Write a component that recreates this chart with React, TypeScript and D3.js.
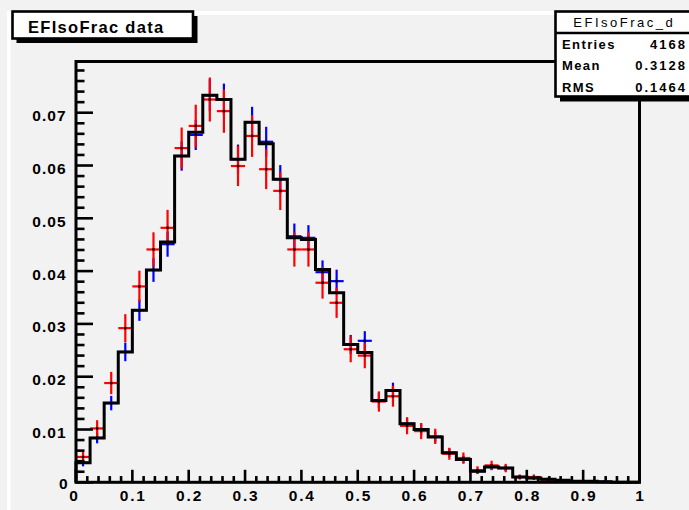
import React from "react";
import * as d3 from "d3";

// 40 bins of width 0.025 on [0, 1]
const binEdges: number[] = d3.range(0, 41).map((i) => i * 0.025);

// Reference histogram (black line)
const histValues: number[] = [
  0.0037, 0.0084, 0.015, 0.0247, 0.0326, 0.0402, 0.0455, 0.0618, 0.0663, 0.0733,
  0.0725, 0.0612, 0.0682, 0.0641, 0.0574, 0.0463, 0.046, 0.0403, 0.0359, 0.0261,
  0.0246, 0.0155, 0.0174, 0.0111, 0.01, 0.0086, 0.0056, 0.0043, 0.0021, 0.0029,
  0.0027, 0.001, 0.0008, 0.0006, 0.0004, 0.0002, 0.0002, 0.0001, 0, 0,
];

// Blue data points and their errors
const blueValues: number[] = [
  0.0037, 0.0084, 0.015, 0.0247, 0.0326, 0.0402, 0.0451, 0.0618, 0.0658, 0.0733,
  0.0725, 0.0612, 0.0682, 0.0645, 0.0574, 0.0466, 0.0463, 0.0398, 0.0381, 0.0261,
  0.0268, 0.0155, 0.0174, 0.0111, 0.01, 0.0086, 0.0056, 0.0043, 0.0021, 0.0029,
  0.0027, 0.001, 0.0008, 0.0006, 0.0004, 0.0002, 0.0002, 0.0001, 0, 0,
];
const blueErrors: number[] = [
  0.00068, 0.00102, 0.00137, 0.00176, 0.00202, 0.00224, 0.00237, 0.00278, 0.00286, 0.00303,
  0.00301, 0.00277, 0.00292, 0.00284, 0.00268, 0.00241, 0.0024, 0.00223, 0.00218, 0.00181,
  0.00183, 0.00139, 0.00147, 0.00118, 0.00112, 0.00104, 0.00084, 0.00073, 0.00051, 0.0006,
  0.00058, 0.00035, 0.00032, 0.00027, 0.00022, 0.00016, 0.00016, 0.00011, 0, 0,
];

// Red data points and their errors
const redValues: number[] = [
  0.0048, 0.0102, 0.0188, 0.0292, 0.0371, 0.0441, 0.0482, 0.0633, 0.0675, 0.0725,
  0.0703, 0.0599, 0.0656, 0.0593, 0.0552, 0.0441, 0.0441, 0.0378, 0.034, 0.0252,
  0.024, 0.0153, 0.0163, 0.0107, 0.0097, 0.0087, 0.0054, 0.0046, 0.0023, 0.0032,
  0.0027, 0.001, 0.001, 0.0002, 0, 0, 0.0002, 0, 0, 0,
];
const redErrors: number[] = [
  0.00107, 0.00156, 0.00212, 0.00265, 0.00298, 0.00325, 0.0034, 0.0039, 0.00402, 0.00417,
  0.0041, 0.00379, 0.00397, 0.00377, 0.00364, 0.00325, 0.00325, 0.00301, 0.00286, 0.00246,
  0.0024, 0.00192, 0.00198, 0.0016, 0.00153, 0.00145, 0.00114, 0.00105, 0.00074, 0.00088,
  0.0008, 0.00049, 0.00049, 0.00022, 0, 0, 0.00022, 0, 0, 0,
];

const xMajorTicks: number[] = d3.range(0, 11).map((i) => i / 10);
const xMinorTicks: number[] = d3.range(0, 51).map((i) => i / 50).filter((_, i) => i % 5 !== 0);
const yMajorTicks: number[] = d3.range(0, 8).map((i) => i / 100);
const yMinorTicks: number[] = d3.range(0, 40).map((i) => i / 500).filter((_, i) => i % 5 !== 0);
const xTickLabels: string[] = ["0", "0.1", "0.2", "0.3", "0.4", "0.5", "0.6", "0.7", "0.8", "0.9", "1"];
const yTickLabels: string[] = ["0", "0.01", "0.02", "0.03", "0.04", "0.05", "0.06", "0.07"];

const titleText = "EFIsoFrac data";
const statsName = "EFIsoFrac_d";
const statsRows: [string, string][] = [
  ["Entries", "4168"],
  ["Mean", "0.3128"],
  ["RMS", "0.1464"],
];

const W = 689;
const H = 510;
const FONT = "'Liberation Sans', Arial, Helvetica, sans-serif";
const BG = "#f2f2f2";

export default function App() {
  const x = d3.scaleLinear().domain([0, 1]).range([76, 639.5]);
  const y = d3.scaleLinear().domain([0, 0.0797]).range([482.3, 61.5]);

  const left = x(0);
  const right = x(1);
  const top = y(0.0797);
  const bottom = y(0);
  const yTickLen = 17;
  const xTickLen = 12.5;

  const histPts: [number, number][] = [[0, 0]];
  histValues.forEach((v, i) => {
    histPts.push([binEdges[i], v]);
    histPts.push([binEdges[i + 1], v]);
  });
  histPts.push([1, 0]);
  const histPath = d3
    .line<[number, number]>()
    .x((d) => x(d[0]))
    .y((d) => y(d[1]))(histPts) as string;

  const errorCrosses = (vals: number[], errs: number[], color: string, key: string) =>
    vals.map((v, i) => {
      if (v <= 0) return null;
      const x0 = x(binEdges[i]);
      const x1 = x(binEdges[i + 1]);
      const xc = x((binEdges[i] + binEdges[i + 1]) / 2);
      const yc = y(v);
      return (
        <g key={`${key}${i}`} stroke={color} strokeWidth={2.2}>
          <line x1={x0} x2={x1} y1={yc} y2={yc} />
          <line x1={xc} x2={xc} y1={y(v + errs[i])} y2={Math.min(bottom, y(v - errs[i]))} />
        </g>
      );
    });

  const centerDots = (vals: number[], key: string) =>
    vals.map((v, i) => {
      if (v <= 0) return null;
      const xc = x((binEdges[i] + binEdges[i + 1]) / 2);
      return <rect key={`${key}${i}`} x={xc - 1.2} y={y(v) - 1.2} width={2.4} height={2.4} fill="#000" />;
    });

  const yLs = 1;
  const xLs = 1.8;

  return (
    <svg
      width={W}
      height={H}
      viewBox={`0 0 ${W} ${H}`}
      style={{ position: "fixed", left: 0, top: 0, display: "block" }}
    >
      <rect x={0} y={0} width={W} height={H} fill={BG} />
      {/* pad highlight border */}
      <rect x={7} y={11} width={3.5} height={H - 11} fill="#ffffff" />
      <rect x={7} y={11} width={W - 7} height={4} fill="#ffffff" />

      {/* data */}
      {errorCrosses(blueValues, blueErrors, "#0000ff", "b")}
      {errorCrosses(redValues, redErrors, "#ff0000", "r")}
      {centerDots(blueValues, "bd")}
      {centerDots(redValues, "rd")}
      <path d={histPath} fill="none" stroke="#000" strokeWidth={3} strokeLinejoin="miter" />

      {/* frame */}
      <rect x={left} y={top} width={right - left} height={bottom - top} fill="none" stroke="#000" strokeWidth={3} />

      {/* axis ticks */}
      <g stroke="#000" strokeWidth={2.6}>
        {yMajorTicks.map((t) => (
          <line key={`ym${t}`} x1={left} x2={left + yTickLen} y1={y(t)} y2={y(t)} />
        ))}
        {yMinorTicks.map((t) => (
          <line key={`yn${t}`} x1={left} x2={left + yTickLen / 2} y1={y(t)} y2={y(t)} />
        ))}
        {xMajorTicks.map((t) => (
          <line key={`xm${t}`} x1={x(t)} x2={x(t)} y1={bottom} y2={bottom - xTickLen} />
        ))}
        {xMinorTicks.map((t) => (
          <line key={`xn${t}`} x1={x(t)} x2={x(t)} y1={bottom} y2={bottom - xTickLen / 2} />
        ))}
      </g>

      {/* tick labels */}
      <g fontFamily={FONT} fontWeight="bold" fontSize={15.5} fill="#000">
        {yMajorTicks.map((t, i) =>
          i === 0 ? (
            <text key={`yl${i}`} x={67.5} y={489} textAnchor="end">
              {yTickLabels[i]}
            </text>
          ) : (
            <text key={`yl${i}`} x={65.5 + yLs} y={y(t) + 8.5} textAnchor="end" letterSpacing={yLs}>
              {yTickLabels[i]}
            </text>
          )
        )}
        {xMajorTicks.map((t, i) =>
          i === 0 ? (
            <text key={`xl${i}`} x={73.5} y={500.5} textAnchor="middle">
              {xTickLabels[i]}
            </text>
          ) : (
            <text key={`xl${i}`} x={x(t) + xLs / 2} y={500.5} textAnchor="middle" letterSpacing={xLs}>
              {xTickLabels[i]}
            </text>
          )
        )}
      </g>

      {/* title box */}
      <rect x={16.5} y={16} width={181} height={27} fill="#000" />
      <rect x={12.5} y={11.5} width={180.5} height={27} fill="#fff" stroke="#000" strokeWidth={2.6} />
      <text
        x={28}
        y={33.3}
        fontFamily={FONT}
        fontWeight="bold"
        fontSize={16.5}
        letterSpacing={1.3}
        fill="#000"
      >
        {titleText}
      </text>

      {/* statistics box */}
      <rect x={560} y={16} width={140} height={85.5} fill="#000" />
      <rect x={555.5} y={11.5} width={140} height={85} fill="#fff" stroke="#000" strokeWidth={2.6} />
      <line x1={555.5} x2={W} y1={33} y2={33} stroke="#000" strokeWidth={2.6} />
      <text
        x={623 + 1.25}
        y={27}
        textAnchor="middle"
        fontFamily={FONT}
        fontSize={13}
        letterSpacing={2.5}
        fill="#000"
      >
        {statsName}
      </text>
      <g fontFamily={FONT} fontWeight="bold" fontSize={13} fill="#000">
        {statsRows.map(([label, value], i) => (
          <g key={label}>
            <text x={562} y={48.5 + i * 21.5} letterSpacing={1.4}>
              {label}
            </text>
            <text x={685 + 2} y={48.5 + i * 21.5} textAnchor="end" letterSpacing={2}>
              {value}
            </text>
          </g>
        ))}
      </g>
    </svg>
  );
}
